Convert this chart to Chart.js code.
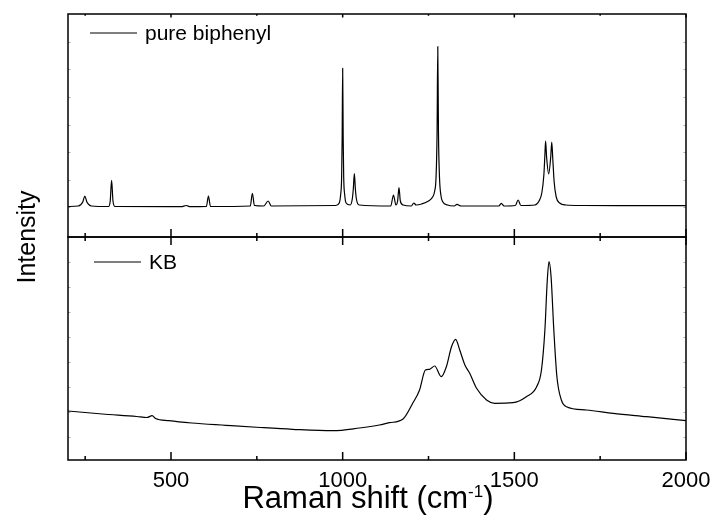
<!DOCTYPE html>
<html>
<head>
<meta charset="utf-8">
<script src="https://cdn.jsdelivr.net/npm/chart.js@4.4.1/dist/chart.umd.min.js"></script>
<style>
    html, body { margin: 0; padding: 0; background: #fff; }
    canvas { display: block; }
</style>
</head>
<body>
<canvas id="raman-chart" width="719" height="521"></canvas>
<script>
(function () {
    "use strict";

    // x axis (Raman shift, cm-1)
    const shiftTicks = [500, 1000, 1500, 2000];
    const shiftMinorTicks = [250, 750, 1250, 1750];

    // pure biphenyl spectrum (a.u.)
    const biphenylShift = [
        200, 230, 243, 249, 255, 268, 318, 323, 327, 331, 337,
        530, 544, 556, 603, 609, 615, 731, 737, 743, 770, 783, 792,
        980, 990, 994, 997, 998.5, 1000, 1001.5, 1003, 1006, 1010,
        1022, 1028, 1031, 1034, 1037, 1040, 1048,
        1140, 1148, 1155, 1160, 1164, 1168, 1176, 1200, 1207, 1214,
        1230, 1250, 1262, 1268, 1272, 1275, 1277, 1279, 1282, 1286, 1292, 1305,
        1325, 1333, 1345, 1455, 1462, 1470, 1503, 1511, 1519,
        1560, 1572, 1580, 1586, 1589, 1591, 1594, 1600, 1606, 1609, 1612, 1616, 1622, 1632, 1650,
        1700, 1800, 1900, 2000
    ];
    const biphenylIntensity = [
        30.5, 31, 35, 41, 35, 31, 30.5, 36, 56.7, 36, 30.5,
        30.3, 31.5, 30.3, 30.5, 41, 30.5, 31, 43.7, 31.5, 31, 36, 31,
        31.5, 34, 42, 60, 99, 168.7, 99, 60, 42, 34,
        32, 38, 48, 63.3, 48, 38, 32,
        31, 42, 32, 36, 49.3, 36, 32, 31, 34, 32,
        33, 36, 40, 46, 60, 105, 190.3, 105, 60, 42, 35, 32,
        31, 32.7, 31, 31, 33.7, 31, 31.5, 37, 31.5,
        32, 36, 44, 62, 82, 96, 80, 63, 80, 95, 78, 55, 40, 34, 32,
        31.5, 31.3, 31.3, 31.3
    ];

    // KB spectrum (a.u.)
    const kbShift = [
        200, 300, 400, 430, 445, 455, 494, 560, 660, 760, 854, 971,
        1049, 1107, 1136, 1175, 1204, 1224, 1241, 1253, 1268, 1287, 1302,
        1317, 1329, 1341, 1356, 1370, 1390, 1419, 1443, 1496, 1535, 1565,
        1579, 1589, 1596, 1601, 1607, 1615, 1624, 1637, 1652, 1710, 1788, 1886, 2000
    ];
    const kbIntensity = [
        49, 46, 43.5, 42.5, 44.3, 41.5, 39.3, 37, 34.7, 32.5, 30.7, 29.3,
        32, 35, 37.3, 40.7, 56.7, 70, 90, 90.7, 94, 83.3, 93.3,
        113.3, 120.7, 110, 95, 86.7, 71.7, 60, 56.7, 57.3, 63.3, 73.3,
        90, 130, 180, 198.3, 183.3, 130, 83.3, 60, 53.3, 50, 46.7, 43.3, 39.3
    ];

    // minor y ticks (no labels)
    const biphenylTicks = [30.3, 57, 85.3, 112, 140.3, 168, 195.3];
    const kbTicks = [23.3, 48.3, 73.3, 98.3, 123.3, 148.3, 173.3, 198.3];

    const fontFamily = "Arial, 'Liberation Sans', sans-serif";
    Chart.defaults.font.family = fontFamily;
    Chart.defaults.color = "#000";

    const toPoints = (xs, ys) => xs.map((x, i) => ({ x: x, y: ys[i] }));

    const panelAxis = () => ({
        type: "linear",
        position: "left",
        stack: "raman",
        stackWeight: 1,
        min: 0,
        max: 223,
        grid: { display: false, drawTicks: false },
        border: { display: false },
        ticks: { display: false },
        afterFit: (scale) => { scale.width = 68; },
    });

    // frame, inward ticks, legends and axis titles
    const framePlugin = {
        id: "ramanFrame",
        afterDraw(chart) {
            const ctx = chart.ctx;
            const x = chart.scales.x;
            const panels = [
                { scale: chart.scales.yBiphenyl, ticks: biphenylTicks, label: "pure biphenyl", lx: 90, dy: 19 },
                { scale: chart.scales.yKB, ticks: kbTicks, label: "KB", lx: 94, dy: 25 },
            ];
            ctx.save();
            panels.forEach((p, idx) => {
                const top = p.scale.top, bottom = p.scale.bottom;

                // faint y ticks on both sides
                ctx.strokeStyle = "#aaa";
                ctx.lineWidth = 1;
                p.ticks.forEach((v) => {
                    const py = Math.round(p.scale.getPixelForValue(v)) + 0.5;
                    ctx.beginPath();
                    ctx.moveTo(x.left, py); ctx.lineTo(x.left + 2.5, py);
                    ctx.moveTo(x.right, py); ctx.lineTo(x.right - 2.5, py);
                    ctx.stroke();
                });

                // x ticks on both edges of each panel
                ctx.strokeStyle = "#000";
                ctx.lineWidth = 1.5;
                const topLen = idx === 0 ? 0.45 : 1;
                const drawTicks = (vals, len) => vals.forEach((v) => {
                    const px = x.getPixelForValue(v);
                    ctx.beginPath();
                    ctx.moveTo(px, bottom); ctx.lineTo(px, bottom - len);
                    ctx.moveTo(px, top); ctx.lineTo(px, top + len * topLen);
                    ctx.stroke();
                });
                drawTicks(shiftTicks, 8);
                drawTicks(shiftMinorTicks, 4);

                ctx.strokeRect(x.left, top, x.right - x.left, bottom - top);

                // legend
                const ly = top + p.dy;
                ctx.lineWidth = 1.2;
                ctx.beginPath();
                ctx.moveTo(p.lx, ly); ctx.lineTo(p.lx + 47, ly);
                ctx.stroke();
                ctx.fillStyle = "#000";
                ctx.font = "21px " + fontFamily;
                ctx.textAlign = "left";
                ctx.textBaseline = "middle";
                ctx.fillText(p.label, p.lx + 55, ly + 1);
            });

            // y title
            const yMid = (chart.scales.yBiphenyl.top + chart.scales.yKB.bottom) / 2;
            ctx.save();
            ctx.translate(35, yMid);
            ctx.rotate(-Math.PI / 2);
            ctx.font = "25px " + fontFamily;
            ctx.textAlign = "center";
            ctx.textBaseline = "alphabetic";
            ctx.fillText("Intensity", 0, 0);
            ctx.restore();

            // x title with superscript
            const main = "Raman shift (cm", sup = "-1", close = ")";
            const bigFont = "31px " + fontFamily, supFont = "17px " + fontFamily;
            ctx.font = bigFont;
            const w1 = ctx.measureText(main).width, w3 = ctx.measureText(close).width;
            ctx.font = supFont;
            const w2 = ctx.measureText(sup).width;
            let tx = 368 - (w1 + w2 + w3) / 2;
            const base = 508;
            ctx.textAlign = "left";
            ctx.textBaseline = "alphabetic";
            ctx.font = bigFont;
            ctx.fillText(main, tx, base);
            tx += w1;
            ctx.font = supFont;
            ctx.fillText(sup, tx, base - 11);
            tx += w2;
            ctx.font = bigFont;
            ctx.fillText(close, tx, base);
            ctx.restore();
        },
    };

    const ctx = document.getElementById("raman-chart").getContext("2d");
    new Chart(ctx, {
        type: "line",
        data: {
            datasets: [
                {
                    label: "pure biphenyl",
                    data: toPoints(biphenylShift, biphenylIntensity),
                    yAxisID: "yBiphenyl",
                    borderColor: "#000",
                    borderWidth: 1.2,
                    pointRadius: 0,
                    cubicInterpolationMode: "monotone",
                },
                {
                    label: "KB",
                    data: toPoints(kbShift, kbIntensity),
                    yAxisID: "yKB",
                    borderColor: "#000",
                    borderWidth: 1.2,
                    pointRadius: 0,
                    cubicInterpolationMode: "monotone",
                },
            ],
        },
        options: {
            responsive: false,
            animation: false,
            devicePixelRatio: 1,
            layout: { padding: { top: 14, right: 33, left: 0, bottom: 0 } },
            plugins: {
                legend: { display: false },
                tooltip: { enabled: false },
            },
            scales: {
                x: {
                    type: "linear",
                    min: 200,
                    max: 2000,
                    grid: { display: false, drawTicks: true, tickLength: 5 },
                    border: { display: false },
                    ticks: {
                        padding: 3,
                        maxRotation: 0,
                        font: { size: 22 },
                        color: "#000",
                        callback: (value) => String(value),
                    },
                    afterBuildTicks: (scale) => {
                        scale.ticks = shiftTicks.map((v) => ({ value: v }));
                    },
                    afterFit: (scale) => { scale.height = 61; },
                },
                yKB: panelAxis(),
                yBiphenyl: panelAxis(),
            },
        },
        plugins: [framePlugin],
    });
})();
</script>
</body>
</html>
